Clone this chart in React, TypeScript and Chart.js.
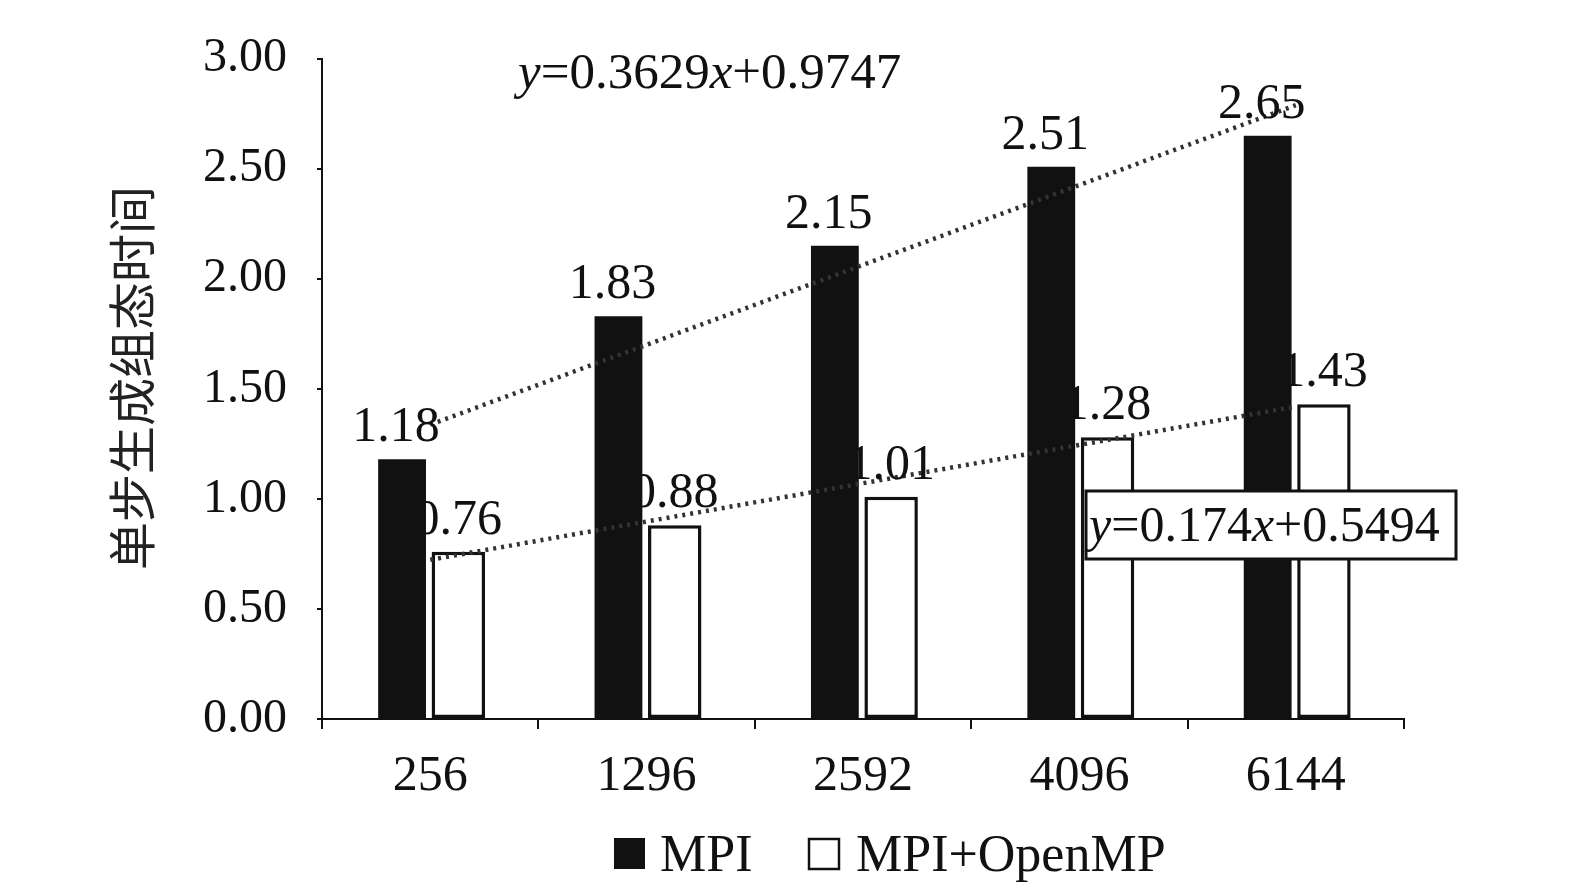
import React, { useEffect, useRef } from "react";
import { Chart, registerables } from "chart.js";
Chart.register(...registerables);

const categories = ["256", "1296", "2592", "4096", "6144"];
const mpiValues = [1.18, 1.83, 2.15, 2.51, 2.65];
const hybridValues = [0.76, 0.88, 1.01, 1.28, 1.43];
const mpiTrend = [1.3376, 1.7005, 2.0634, 2.4263, 2.7892];
const hybridTrend = [0.7234, 0.8974, 1.0714, 1.2454, 1.4194];
const yTicks = [0, 0.5, 1, 1.5, 2, 2.5, 3];

const SERIF = "'Liberation Serif', 'Times New Roman', serif";

function drawFormula(ctx: CanvasRenderingContext2D, parts: [string, boolean][], x: number, y: number, size: number) {
  let cx = x;
  for (const [t, it] of parts) {
    ctx.font = `${it ? "italic " : ""}${size}px ${SERIF}`;
    ctx.fillText(t, cx, y);
    cx += ctx.measureText(t).width;
  }
  return cx;
}

const extras = {
  id: "extras",
  afterDatasetsDraw(chart: any) {
    const ctx = chart.ctx as CanvasRenderingContext2D;
    ctx.save();
    ctx.fillStyle = "#111";
    ctx.font = `50px ${SERIF}`;
    ctx.textAlign = "center";
    ctx.textBaseline = "bottom";
    [2, 3].forEach((di) => {
      const meta = chart.getDatasetMeta(di);
      const vals = chart.data.datasets[di].data;
      meta.data.forEach((el: any, i: number) => {
        ctx.fillText(Number(vals[i]).toFixed(2), el.x - (di === 2 ? 6 : 0), el.y - 6);
      });
    });
    ctx.textAlign = "left";
    ctx.textBaseline = "alphabetic";
    drawFormula(ctx, [["y", true], ["=0.3629", false], ["x", true], ["+0.9747", false]], 518, 88, 51);
    ctx.fillStyle = "#fff";
    ctx.fillRect(1086, 491, 370, 68);
    ctx.strokeStyle = "#111";
    ctx.lineWidth = 3;
    ctx.strokeRect(1086, 491, 370, 68);
    ctx.fillStyle = "#111";
    drawFormula(ctx, [["y", true], ["=0.174", false], ["x", true], ["+0.5494", false]], 1089, 541, 50);
    // legend
    ctx.fillRect(614, 838, 31, 31);
    ctx.lineWidth = 2.5;
    ctx.strokeRect(809, 839, 30, 30);
    ctx.font = `52px ${SERIF}`;
    ctx.fillText("MPI", 660, 871);
    ctx.fillText("MPI+OpenMP", 856, 871);
    // y title
    ctx.translate(132, 378);
    ctx.rotate(-Math.PI / 2);
    ctx.textAlign = "center";
    ctx.textBaseline = "middle";
    ctx.fillStyle = "#222";
    ctx.font = `48px 'Noto Sans CJK SC'`;
    ctx.fillText("单步生成组态时间", 0, 0);
    ctx.restore();
  },
};

export default function App() {
  const ref = useRef<HTMLCanvasElement>(null);
  useEffect(() => {
    document.body.style.margin = "0";
    const chart = new Chart(ref.current!, {
      type: "bar",
      data: {
        labels: categories,
        datasets: [
          { type: "line", data: mpiTrend, borderColor: "#333", borderWidth: 4.5, borderDash: [3, 5], pointRadius: 0, order: 0 } as any,
          { type: "line", data: hybridTrend, borderColor: "#333", borderWidth: 4.5, borderDash: [3, 5], pointRadius: 0, order: 0 } as any,
          { label: "MPI", data: mpiValues, backgroundColor: "#111", borderWidth: 0, categoryPercentage: 0.52, barPercentage: 0.85, order: 1 },
          { label: "MPI+OpenMP", data: hybridValues, backgroundColor: "#fff", borderColor: "#111", borderWidth: 3.5, borderSkipped: false, categoryPercentage: 0.52, barPercentage: 0.95, order: 1 },
        ],
      },
      options: {
        animation: false,
        responsive: false,
        layout: { padding: { left: 0, top: 34, right: 171, bottom: 0 } },
        plugins: { legend: { display: false }, tooltip: { enabled: false } },
        scales: {
          x: {
            grid: { drawOnChartArea: false, offset: true, tickLength: 10, color: "#111", lineWidth: 2 },
            border: { color: "#111", width: 2 },
            ticks: { color: "#111", font: { family: SERIF, size: 50 }, padding: 18 },
            afterFit: (s: any) => { s.height = 896 - 719; },
          },
          y: {
            min: 0, max: 3,
            afterBuildTicks: (s: any) => { s.ticks = yTicks.map((v) => ({ value: v })); },
            grid: { drawOnChartArea: false, tickLength: 5, color: "#111", lineWidth: 2 },
            border: { color: "#111", width: 2 },
            ticks: { color: "#111", font: { family: SERIF, size: 48 }, padding: 30, callback: (v: any) => Number(v).toFixed(2) },
            afterFit: (s: any) => { s.width = 322; },
          },
        },
      },
      plugins: [extras],
    });
    return () => chart.destroy();
  }, []);
  return <div style={{ width: 1575, height: 896 }}><canvas ref={ref} width={1575} height={896} /></div>;
}
